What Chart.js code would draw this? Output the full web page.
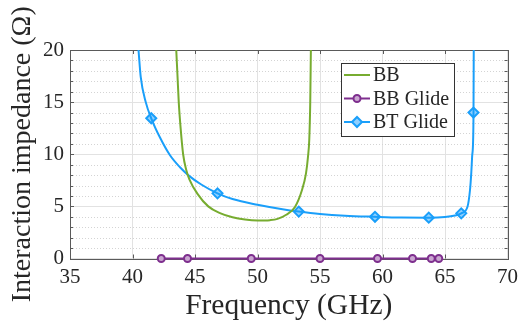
<!DOCTYPE html>
<html>
<head>
<meta charset="utf-8">
<script src="https://cdn.jsdelivr.net/npm/chart.js@4"></script>
<style>
  html, body { margin: 0; padding: 0; background: #fff; }
  #wrap { width: 524px; height: 326px; position: relative; }
</style>
</head>
<body>
<div id="wrap"><canvas id="chart"></canvas></div>
<script>
'use strict';

/* --- Data --- */
const xTicks = [35, 40, 45, 50, 55, 60, 65, 70];
const yTicks = [0, 5, 10, 15, 20];

// BB
const bbFreq = [43.5, 43.6, 43.7, 43.85, 44.05, 44.3, 44.55, 45.2, 46.06, 47, 48, 49, 50, 51, 51.6, 52.3, 53.0, 53.56, 53.88, 54.04, 54.14, 54.22, 54.27];
const bbImp  = [20, 17.5, 15, 12.5, 10, 8.5, 7.6, 6.2, 5.0, 4.35, 3.95, 3.73, 3.64, 3.68, 3.8, 4.2, 4.95, 6.57, 8.17, 9.77, 11.37, 15, 20];

// BB Glide
const bbgFreq = [42.3, 44.4, 49.5, 55.0, 59.6, 62.4, 63.9, 64.5];
const bbgImp  = [0, 0, 0, 0, 0, 0, 0, 0];

// BT Glide (curve)
const btFreq = [40.48, 40.66, 41.06, 41.5, 42.2, 43.0, 43.8, 44.5, 45.5, 46.8, 48, 50, 52, 53.3, 55, 57, 59.3, 61.5, 63.7, 65, 65.8, 66.3, 66.8, 67.0, 67.1, 67.17, 67.25, 67.28, 67.3];
const btImp  = [20, 17.4, 15, 13.45, 11.6, 9.9, 8.75, 7.95, 7.1, 6.25, 5.7, 5.15, 4.72, 4.5, 4.27, 4.1, 4.0, 3.93, 3.92, 3.98, 4.12, 4.33, 4.97, 6.57, 8.17, 9.77, 11.37, 14, 20];
// BT Glide (marker positions)
const btMarkFreq = [41.5, 46.8, 53.3, 59.4, 63.7, 66.3, 67.28];
const btMarkImp  = [13.45, 6.25, 4.5, 4.0, 3.92, 4.33, 14];

const GREEN = '#77AC30';
const PURPLE = '#7E2F8E';
const BLUE = '#1a9ffa';
const AXIS = '#5a5a5a';
const TEXT = '#262626';
const SERIF = '"Liberation Serif", "DejaVu Serif", serif';

const pts = (xs, ys) => xs.map((x, i) => ({ x, y: ys[i] }));

/* --- Axes decoration: box, minor grid, inward ticks --- */
const axesBox = {
  id: 'axesBox',
  beforeDatasetsDraw(chart) {
    const { ctx, chartArea: a, scales: { x, y } } = chart;
    ctx.save();
    // dotted minor grid every 1 unit on y
    ctx.strokeStyle = '#d4d4d4';
    ctx.lineWidth = 1;
    ctx.setLineDash([1, 2]);
    for (let v = 1; v < 20; v++) {
      if (v % 5 === 0) continue;
      const py = Math.round(y.getPixelForValue(v)) + 0.5;
      ctx.beginPath(); ctx.moveTo(a.left, py); ctx.lineTo(a.right, py); ctx.stroke();
    }
    ctx.setLineDash([]);
    // box
    ctx.strokeStyle = AXIS;
    ctx.strokeRect(Math.round(a.left) + 0.5, Math.round(a.top) + 0.5,
                   Math.round(a.right - a.left), Math.round(a.bottom - a.top));
    // inward ticks
    ctx.beginPath();
    xTicks.forEach(v => {
      const px = Math.round(x.getPixelForValue(v)) + 0.5;
      ctx.moveTo(px, a.bottom); ctx.lineTo(px, a.bottom - 4);
      ctx.moveTo(px, a.top); ctx.lineTo(px, a.top + 4);
    });
    for (let v = 0; v <= 20; v++) {
      const py = Math.round(y.getPixelForValue(v)) + 0.5;
      const len = v % 5 === 0 ? 4 : 3;
      ctx.moveTo(a.left, py); ctx.lineTo(a.left + len, py);
      ctx.moveTo(a.right, py); ctx.lineTo(a.right - len, py);
    }
    ctx.stroke();
    ctx.restore();
  }
};

/* --- Legend box inside the plot --- */
const boxLegend = {
  id: 'boxLegend',
  afterDatasetsDraw(chart) {
    const { ctx, chartArea: a } = chart;
    const left = a.left + 271, top = a.top + 13, w = 113, h = 73;
    const rows = [
      { label: chart.data.datasets[0].label, color: GREEN, marker: null },
      { label: chart.data.datasets[1].label, color: PURPLE, marker: 'circle' },
      { label: chart.data.datasets[2].label, color: BLUE, marker: 'rectRot' }
    ];
    ctx.save();
    ctx.fillStyle = '#fff';
    ctx.fillRect(left, top, w, h);
    ctx.strokeStyle = '#333';
    ctx.lineWidth = 1;
    ctx.strokeRect(left + 0.5, top + 0.5, w, h);
    rows.forEach((r, i) => {
      const cy = top + 12 + i * 23.5;
      ctx.strokeStyle = r.color;
      ctx.lineWidth = 2;
      ctx.beginPath(); ctx.moveTo(left + 3, cy); ctx.lineTo(left + 29, cy); ctx.stroke();
      if (r.marker === 'circle') {
        ctx.fillStyle = '#c9a6d0';
        ctx.beginPath(); ctx.arc(left + 16, cy, 3.5, 0, Math.PI * 2); ctx.fill(); ctx.stroke();
      } else if (r.marker === 'rectRot') {
        ctx.fillStyle = '#8fd0ff';
        Chart.helpers.drawPoint(ctx, { pointStyle: 'rectRot', radius: 5, borderWidth: 2 }, left + 16, cy);
      }
      ctx.fillStyle = TEXT;
      ctx.font = '20px ' + SERIF;
      ctx.textBaseline = 'middle';
      ctx.fillText(r.label, left + 32, cy + 1);
    });
    ctx.restore();
  }
};

new Chart(document.getElementById('chart').getContext('2d'), {
  type: 'scatter',
  data: {
    datasets: [
      {
        label: 'BB',
        data: pts(bbFreq, bbImp),
        showLine: true, borderColor: GREEN, borderWidth: 2,
        pointRadius: 0, cubicInterpolationMode: 'monotone'
      },
      {
        label: 'BB Glide',
        data: pts(bbgFreq, bbgImp),
        showLine: true, borderColor: PURPLE, borderWidth: 2,
        pointStyle: 'circle', pointRadius: 3.5, pointBorderWidth: 2,
        pointBackgroundColor: '#c9a6d0', pointBorderColor: PURPLE,
        clip: 8
      },
      {
        label: 'BT Glide',
        data: pts(btFreq, btImp),
        showLine: true, borderColor: BLUE, borderWidth: 2,
        pointRadius: 0, cubicInterpolationMode: 'monotone'
      },
      {
        label: 'BT Glide markers',
        data: pts(btMarkFreq, btMarkImp),
        showLine: false,
        pointStyle: 'rectRot', pointRadius: 5, pointBorderWidth: 2,
        pointBackgroundColor: '#8fd0ff', pointBorderColor: BLUE
      }
    ]
  },
  options: {
    responsive: true,
    maintainAspectRatio: false,
    animation: false,
    layout: { padding: { left: 0, top: 50, right: 11, bottom: 0 } },
    plugins: { legend: { display: false }, tooltip: { enabled: false } },
    scales: {
      x: {
        type: 'linear', min: 35, max: 70,
        afterBuildTicks: s => { s.ticks = xTicks.map(v => ({ value: v })); },
        afterFit: s => { s.height = 67.5; },
        grid: { color: '#e2e2e2', drawTicks: false },
        border: { display: false },
        ticks: { color: TEXT, padding: 6, font: { family: SERIF, size: 21 }, maxRotation: 0 },
        title: { display: true, text: 'Frequency (GHz)', color: TEXT,
                 font: { family: SERIF, size: 29.5 }, padding: { top: 0, bottom: 2 } }
      },
      y: {
        type: 'linear', min: 0, max: 20,
        afterBuildTicks: s => { s.ticks = yTicks.map(v => ({ value: v })); },
        afterFit: s => { s.width = 70; },
        grid: { color: '#e2e2e2', drawTicks: false },
        border: { display: false },
        ticks: { color: TEXT, padding: 6, font: { family: SERIF, size: 21 } },
        title: { display: true, text: 'Interaction impedance (Ω)', color: TEXT,
                 font: { family: SERIF, size: 28 }, padding: { top: 6, bottom: 0 } }
      }
    }
  },
  plugins: [axesBox, boxLegend]
});
</script>
</body>
</html>
